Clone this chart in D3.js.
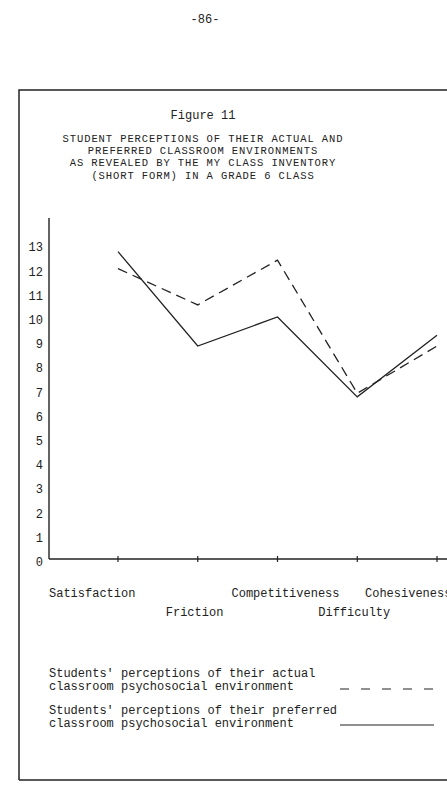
<!DOCTYPE html>
<html><head><meta charset="utf-8">
<script src="https://cdn.jsdelivr.net/npm/d3@7"></script>
<style>
html,body{margin:0;padding:0;background:#fff;}
svg{display:block;}
text{font-family:"Liberation Mono","Courier New",monospace;fill:#222;}
</style></head>
<body>
<script>
// ---- data ----
const categories = ["Satisfaction","Friction","Competitiveness","Difficulty","Cohesiveness"];
const actualValues = [12.0, 10.5, 12.35, 6.85, 8.8];     // dashed
const preferredValues = [12.7, 8.8, 10.0, 6.7, 9.25];    // solid
const yTicks = [0,1,2,3,4,5,6,7,8,9,10,11,12,13];
const titleLines = ["STUDENT PERCEPTIONS OF THEIR ACTUAL AND","PREFERRED CLASSROOM ENVIRONMENTS","AS REVEALED BY THE MY CLASS INVENTORY","(SHORT FORM) IN A GRADE 6 CLASS"];
const legendLabels = [["Students' perceptions of their actual","classroom psychosocial environment"],["Students' perceptions of their preferred","classroom psychosocial environment"]];

const W = 447, H = 788;
const svg = d3.select("body").append("svg").attr("width", W).attr("height", H);
const ink = "#222";

// page number
svg.append("text").attr("x", 205).attr("y", 23).attr("text-anchor","middle").attr("font-size",12).text("-86-");

// frame
svg.append("path").attr("d","M19,780 L19,90 L460,90").attr("fill","none").attr("stroke",ink).attr("stroke-width",1.5);
svg.append("line").attr("x1",19).attr("x2",460).attr("y1",780).attr("y2",780).attr("stroke",ink).attr("stroke-width",1.5);

// titles
svg.append("text").attr("x",203).attr("y",119).attr("text-anchor","middle").attr("font-size",12).text("Figure 11");
titleLines.forEach((t,i)=>{
  svg.append("text").attr("x",203).attr("y",141.5+i*12.4).attr("text-anchor","middle")
    .attr("font-size",10.5).attr("letter-spacing",0.9).text(t);
});

// scales
const y = d3.scaleLinear().domain([0,13]).range([559, 244.4]);
const x = d3.scalePoint().domain(categories).range([118, 437]);

// y axis
svg.append("line").attr("x1",49).attr("x2",49).attr("y1",218).attr("y2",559).attr("stroke",ink).attr("stroke-width",1.4);
svg.selectAll("text.ytick").data(yTicks).join("text").attr("class","ytick")
  .attr("x",43).attr("y",d=>y(d)+7).attr("text-anchor","end").attr("font-size",12).text(d=>d);

// x axis
svg.append("line").attr("x1",49).attr("x2",460).attr("y1",559).attr("y2",559).attr("stroke",ink).attr("stroke-width",1.3);
svg.selectAll("line.xtick").data(categories).join("line").attr("class","xtick")
  .attr("x1",d=>x(d)).attr("x2",d=>x(d)).attr("y1",556).attr("y2",562).attr("stroke",ink).attr("stroke-width",1.2);

// x labels (staggered)
const labelRow = [0,1,0,1,0];
const labelShift = [-69,-32,-46,-39,-72];
svg.selectAll("text.xlab").data(categories).join("text").attr("class","xlab")
  .attr("x",(d,i)=>x(d)+labelShift[i]).attr("y",(d,i)=>597+labelRow[i]*19)
  .attr("font-size",12).text(d=>d);

// lines
const line = d3.line().x((d,i)=>x(categories[i])).y(d=>y(d));
svg.append("path").datum(actualValues).attr("d",line).attr("fill","none").attr("stroke",ink)
  .attr("stroke-width",1.3).attr("stroke-dasharray","10,6");
svg.append("path").datum(preferredValues).attr("d",line).attr("fill","none").attr("stroke",ink)
  .attr("stroke-width",1.3);

// legend
legendLabels.forEach((lines,k)=>{
  lines.forEach((t,j)=>{
    svg.append("text").attr("x",49).attr("y",677+k*37+j*12.5).attr("font-size",12).text(t);
  });
});
svg.append("line").attr("x1",340).attr("x2",434).attr("y1",689).attr("y2",689).attr("stroke",ink)
  .attr("stroke-width",1.2).attr("stroke-dasharray","9,12");
svg.append("line").attr("x1",340).attr("x2",434).attr("y1",725).attr("y2",725).attr("stroke",ink)
  .attr("stroke-width",1.2);
</script>
</body></html>
